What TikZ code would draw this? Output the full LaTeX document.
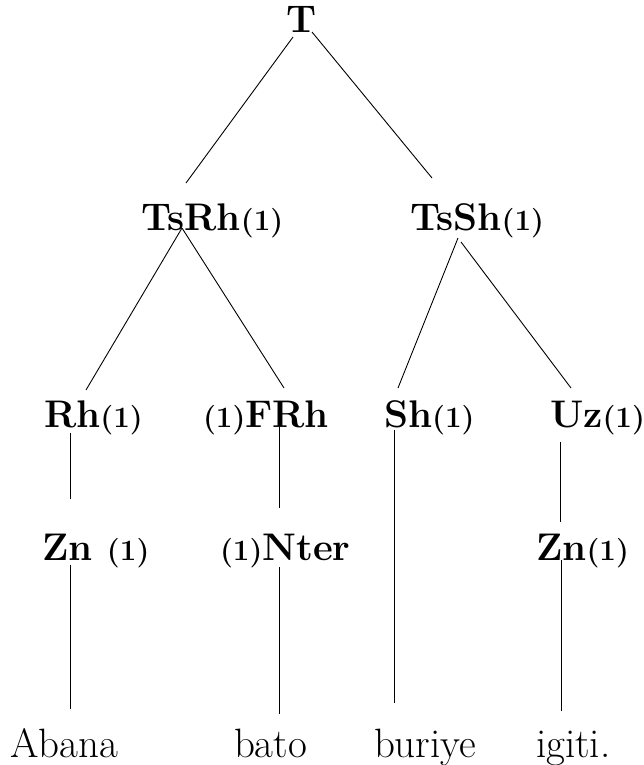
\documentclass[tikz,border=0pt]{standalone}
\usepackage{fontspec}
\newcommand{\onelbl}{{\fontsize{29.5}{32}\selectfont(1)}}
\tikzset{
  lbl/.style={inner sep=0pt, outer sep=0pt, anchor=base west, font=\fontsize{38.5}{44}\selectfont\bfseries},
  word/.style={inner sep=0pt, outer sep=0pt, anchor=base west, font=\fontsize{41}{46}\selectfont},
  branch/.style={line width=0.9pt, black}
}
\begin{document}
\begin{tikzpicture}[x=1pt, y=-1pt]
\useasboundingbox (0,0) rectangle (644,765);
% nodes
\node[lbl] (T) at (286,33) {T};
\node[lbl] (TsRh) at (141,230) {TsRh\onelbl};
\node[lbl] (TsSh) at (410,230) {TsSh\onelbl};
\node[lbl] (Rh) at (44,427) {Rh\onelbl};
\node[lbl] (FRh) at (203,427) {\onelbl FRh};
\node[lbl] (Sh) at (384,427) {Sh\onelbl};
\node[lbl] (Uz) at (550,427) {Uz\onelbl};
\node[lbl] (Zn) at (42,560) {Zn \onelbl};
\node[lbl] (Nter) at (220,560) {\onelbl Nter};
\node[lbl] (Zn2) at (536,560) {Zn\onelbl};
\node[word] (Abana) at (10,757) {Abana};
\node[word] (bato) at (234,757) {bato};
\node[word] (buriye) at (374,757) {buriye};
\node[word] (igiti) at (536,757) {igiti.};
% connector ends
\coordinate (T-a) at (293,37);   \coordinate (TsRh-t) at (186,183);
\coordinate (T-b) at (312,32);   \coordinate (TsSh-t) at (432,178);
\coordinate (TsRh-b) at (182,228); \coordinate (Rh-t) at (86,390); \coordinate (FRh-t) at (284,388);
\coordinate (TsSh-a) at (458,238); \coordinate (Sh-t) at (398,388);
\coordinate (TsSh-b) at (461,242); \coordinate (Uz-t) at (571,388);
\coordinate (Rh-b) at (70,433);  \coordinate (Zn-t) at (70,499);
\coordinate (FRh-b) at (279,427); \coordinate (Nter-t) at (279,508);
\coordinate (Sh-b) at (394,430); \coordinate (buriye-t) at (394,703);
\coordinate (Uz-b) at (560,442); \coordinate (Zn2-t) at (560,522);
\coordinate (Zn-b) at (70,565);  \coordinate (Abana-t) at (70,709);
\coordinate (Nter-b) at (279,567); \coordinate (bato-t) at (279,714);
\coordinate (Zn2-b) at (561,560); \coordinate (igiti-t) at (561,711);
% connectors
\draw[branch] (T-a) -- (TsRh-t);
\draw[branch] (T-b) -- (TsSh-t);
\draw[branch] (TsRh-b) -- (Rh-t);
\draw[branch] (TsRh-b) -- (FRh-t);
\draw[branch] (TsSh-a) -- (Sh-t);
\draw[branch] (TsSh-b) -- (Uz-t);
\draw[branch] (Rh-b) -- (Zn-t);
\draw[branch] (FRh-b) -- (Nter-t);
\draw[branch] (Sh-b) -- (buriye-t);
\draw[branch] (Uz-b) -- (Zn2-t);
\draw[branch] (Zn-b) -- (Abana-t);
\draw[branch] (Nter-b) -- (bato-t);
\draw[branch] (Zn2-b) -- (igiti-t);
\end{tikzpicture}
\end{document}
